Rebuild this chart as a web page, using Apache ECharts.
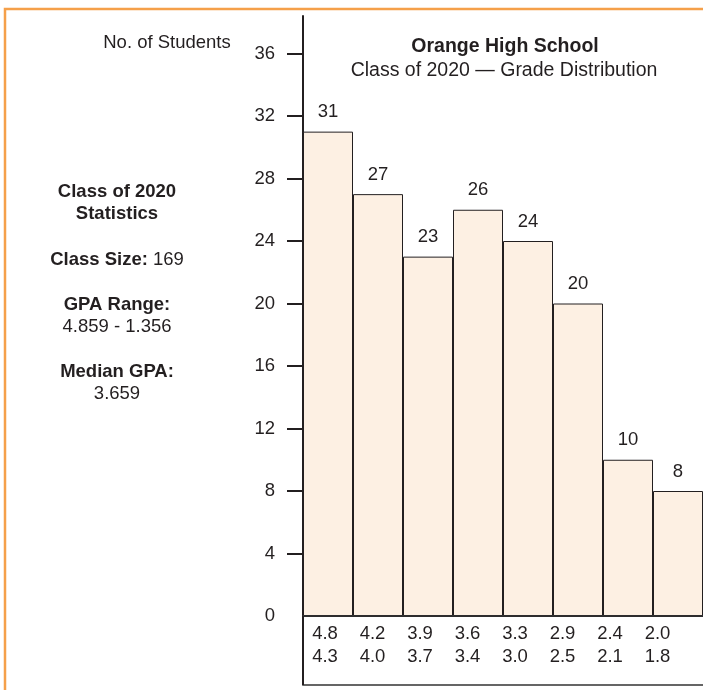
<!DOCTYPE html>
<html>
<head>
<meta charset="utf-8">
<script src="https://cdn.jsdelivr.net/npm/echarts@6/dist/echarts.min.js"></script>
<style>
html,body{margin:0;padding:0;background:#fff;}
#chart{width:703px;height:690px;}
</style>
</head>
<body>
<div id="chart"></div>
<script>
const gpaHigh = ['4.8','4.2','3.9','3.6','3.3','2.9','2.4','2.0'];
const gpaLow  = ['4.3','4.0','3.7','3.4','3.0','2.5','2.1','1.8'];
const students = [31, 27, 23, 26, 24, 20, 10, 8];
const yLabelValues = [0, 4, 8, 12, 16, 20, 24, 28, 32, 36];
const yTickValues = [4, 8, 12, 16, 20, 24, 28, 32, 36];

const categories = gpaHigh.map((h, i) => h + '-' + gpaLow[i]);
const FONT = '"Liberation Sans", Arial, Helvetica, sans-serif';
const INK = '#231F20';
const FS = 18.5;

const chart = echarts.init(document.getElementById('chart'), null, {renderer: 'canvas'});
chart.setOption({
  animation: false,
  backgroundColor: '#fff',
  textStyle: {fontFamily: FONT, color: INK},
  grid: [
    {left: 303, top: 16, width: 401, height: 600, containLabel: false},
    {left: 301.25, top: 16, width: 380, height: 600, containLabel: false}
  ],
  xAxis: [
    {
      type: 'category', gridIndex: 0, data: categories,
      axisLine: {show: true, lineStyle: {color: INK, width: 2}},
      axisTick: {show: false}, axisLabel: {show: false}, splitLine: {show: false}
    },
    {
      type: 'category', gridIndex: 1, data: categories,
      axisLine: {show: false}, axisTick: {show: false}, splitLine: {show: false},
      axisLabel: {
        show: true, interval: 0, margin: 6, fontSize: FS, lineHeight: 23,
        color: INK, fontFamily: FONT,
        formatter: (v, i) => gpaHigh[i] + '\n' + gpaLow[i]
      }
    }
  ],
  yAxis: [
    {
      type: 'value', gridIndex: 0, min: 0, max: 38.4,
      axisLine: {show: true, lineStyle: {color: INK, width: 2}},
      axisTick: {show: true, length: 16, lineStyle: {color: INK, width: 2}, customValues: yTickValues},
      axisLabel: {show: true, margin: 28, fontSize: FS, color: INK, fontFamily: FONT, customValues: yLabelValues},
      splitLine: {show: false}
    },
    {type: 'value', gridIndex: 1, min: 0, max: 38.4, show: false}
  ],
  series: [{
    type: 'bar', xAxisIndex: 0, yAxisIndex: 0,
    data: students,
    barWidth: '100%', barCategoryGap: 0,
    itemStyle: {color: '#FDF0E3', borderColor: INK, borderWidth: 1},
    label: {show: true, position: 'top', distance: 10, fontSize: FS, color: INK, fontFamily: FONT}
  }],
  graphic: [
    {type: 'rect', z: -10, shape: {x: 5, y: 9, width: 1000, height: 1000},
     style: {fill: 'none', stroke: '#F5A04A', lineWidth: 2.5}},
    {type: 'rect', z: 5, shape: {x: 303, y: 616, width: 500, height: 69},
     style: {fill: 'none', stroke: '#333', lineWidth: 1.6}},
    {type: 'line', z: 6, shape: {x1: 303, y1: 616, x2: 303, y2: 685},
     style: {stroke: INK, lineWidth: 2}},
    {type: 'text', x: 167, y: 43, style: {text: 'No. of Students', font: FS + 'px ' + FONT, fill: INK, align: 'center', verticalAlign: 'middle'}},
    {type: 'text', x: 505, y: 47, style: {text: 'Orange High School', font: 'bold 19.5px ' + FONT, fill: INK, align: 'center', verticalAlign: 'middle'}},
    {type: 'text', x: 504, y: 71, style: {text: 'Class of 2020 \u2014 Grade Distribution', font: '19.5px ' + FONT, fill: INK, align: 'center', verticalAlign: 'middle'}},
    {type: 'text', x: 117, y: 192, style: {text: 'Class of 2020', font: 'bold ' + FS + 'px ' + FONT, fill: INK, align: 'center', verticalAlign: 'middle'}},
    {type: 'text', x: 117, y: 214, style: {text: 'Statistics', font: 'bold ' + FS + 'px ' + FONT, fill: INK, align: 'center', verticalAlign: 'middle'}},
    {type: 'text', x: 117, y: 260, style: {
      text: '{b|Class Size:} {n|169}', align: 'center', verticalAlign: 'middle',
      rich: {b: {fontFamily: FONT, fontWeight: 'bold', fontSize: FS, fill: INK, color: INK}, n: {fontFamily: FONT, fontSize: FS, color: INK}},
      font: FS + 'px ' + FONT, fill: INK}},
    {type: 'text', x: 117, y: 305, style: {text: 'GPA Range:', font: 'bold ' + FS + 'px ' + FONT, fill: INK, align: 'center', verticalAlign: 'middle'}},
    {type: 'text', x: 117, y: 327, style: {text: '4.859 - 1.356', font: FS + 'px ' + FONT, fill: INK, align: 'center', verticalAlign: 'middle'}},
    {type: 'text', x: 117, y: 372, style: {text: 'Median GPA:', font: 'bold ' + FS + 'px ' + FONT, fill: INK, align: 'center', verticalAlign: 'middle'}},
    {type: 'text', x: 117, y: 394, style: {text: '3.659', font: FS + 'px ' + FONT, fill: INK, align: 'center', verticalAlign: 'middle'}}
  ]
});
</script>
</body>
</html>
